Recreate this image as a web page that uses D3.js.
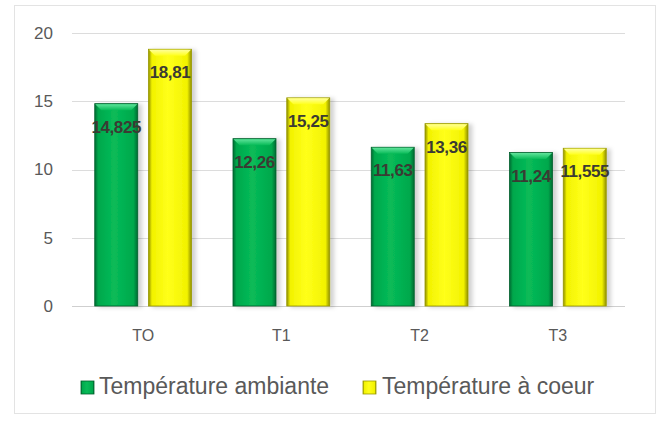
<!DOCTYPE html>
<html lang="fr">
<head>
<meta charset="utf-8">
<title>Températures</title>
<style>
  body { margin: 0; background: #fff; }
  svg text { font-family: "Liberation Sans", Arial, sans-serif; }
  .tick-y, .tick-x { fill: #595959; }
  .lbl { font-weight: bold; fill: #3b3b33; }
  .leg { fill: #595959; }
</style>
</head>
<body>
<svg id="chart" width="660" height="421"></svg>
<script src="https://cdn.jsdelivr.net/npm/d3@7"></script>
<script>
// données
var categories = ['TO', 'T1', 'T2', 'T3'];
var series = ['Température ambiante', 'Température à coeur'];
var ambiante = [14.825, 12.26, 11.63, 11.24];
var coeur = [18.81, 15.25, 13.36, 11.555];
var yTicks = [0, 5, 10, 15, 20];

var svg = d3.select('#chart');

// cadre du graphique
svg.append('rect')
  .attr('x', 14.5).attr('y', 5.5)
  .attr('width', 641).attr('height', 408)
  .attr('fill', '#fff')
  .attr('stroke', '#e3e3e3');

var y = d3.scaleLinear().domain([0, 20]).range([306, 33]);
var x0 = d3.scaleBand().domain(categories).range([74, 627]).paddingInner(0.3).paddingOuter(0.15);
var x1 = d3.scaleBand().domain(series).range([0, x0.bandwidth()]).paddingInner(0.2);

// dégradés (effet biseau)
var defs = svg.append('defs');
function grad(id, edge, mid, light) {
  var g = defs.append('linearGradient').attr('id', id).attr('x1', 0).attr('x2', 1).attr('y1', 0).attr('y2', 0);
  g.append('stop').attr('offset', '0%').attr('stop-color', edge);
  g.append('stop').attr('offset', '8%').attr('stop-color', mid);
  g.append('stop').attr('offset', '45%').attr('stop-color', light);
  g.append('stop').attr('offset', '90%').attr('stop-color', mid);
  g.append('stop').attr('offset', '100%').attr('stop-color', edge);
}
grad('gGreen', '#006b32', '#00a84c', '#08bb58');
grad('gYellow', '#8f8f00', '#f2f200', '#ffff1a');
function topGrad(id, a, b) {
  var g = defs.append('linearGradient').attr('id', id).attr('x1', 0).attr('x2', 0).attr('y1', 0).attr('y2', 1);
  g.append('stop').attr('offset', '0%').attr('stop-color', a);
  g.append('stop').attr('offset', '100%').attr('stop-color', b);
}
topGrad('tGreen', '#5fe39a', '#08bb58');
topGrad('tYellow', '#ffff9a', '#ffff1a');

var shadow = defs.append('filter').attr('id', 'shadow')
  .attr('x', '-20%').attr('y', '-10%').attr('width', '150%').attr('height', '120%');
shadow.append('feDropShadow').attr('dx', 4).attr('dy', 1).attr('stdDeviation', 2)
  .attr('flood-color', '#000').attr('flood-opacity', 0.18);

// grille
svg.append('g').selectAll('line')
  .data(yTicks)
  .enter().append('line')
  .attr('x1', 72).attr('x2', 625)
  .attr('y1', function(d) { return Math.round(y(d)) + 0.5; })
  .attr('y2', function(d) { return Math.round(y(d)) + 0.5; })
  .attr('stroke', function(d) { return d === 0 ? '#cfcfcf' : '#dcdcdc'; })
  .attr('stroke-width', 1);

// axe y
svg.append('g').selectAll('text')
  .data(yTicks)
  .enter().append('text')
  .attr('class', 'tick-y')
  .attr('x', 53)
  .attr('y', function(d) { return y(d); })
  .attr('dy', '0.35em')
  .attr('text-anchor', 'end')
  .style('font-size', '17px')
  .text(function(d) { return d; });

// axe x
svg.append('g').selectAll('text')
  .data(categories)
  .enter().append('text')
  .attr('class', 'tick-x')
  .attr('x', function(d) { return x0(d) + x0.bandwidth() / 2; })
  .attr('y', 341)
  .attr('text-anchor', 'middle')
  .style('font-size', '16px')
  .text(function(d) { return d; });

// barres
var rows = categories.map(function(c, i) {
  return { cat: c, vals: [
    { s: series[0], v: ambiante[i], fill: 'gGreen', top: 'tGreen', edge: '#00602c' },
    { s: series[1], v: coeur[i], fill: 'gYellow', top: 'tYellow', edge: '#9a9a00' }
  ]};
});

var groups = svg.append('g').selectAll('g')
  .data(rows)
  .enter().append('g')
  .attr('transform', function(d) { return 'translate(' + x0(d.cat) + ',0)'; });

var bars = groups.selectAll('g.bar')
  .data(function(d) { return d.vals; })
  .enter().append('g')
  .attr('class', 'bar');

bars.append('rect')
  .attr('x', function(d) { return x1(d.s); })
  .attr('y', function(d) { return y(d.v); })
  .attr('width', x1.bandwidth())
  .attr('height', function(d) { return y(0) - y(d.v); })
  .attr('fill', function(d) { return 'url(#' + d.fill + ')'; })
  .attr('stroke', function(d) { return d.edge; })
  .attr('stroke-width', 0.8)
  .attr('filter', 'url(#shadow)');

// biseau du haut
bars.append('path')
  .attr('d', function(d) {
    var l = x1(d.s) + 0.5, r = l + x1.bandwidth() - 1, t = y(d.v) + 0.5, b = 6;
    return 'M' + l + ',' + t + 'L' + r + ',' + t + 'L' + (r - b) + ',' + (t + b) + 'L' + (l + b) + ',' + (t + b) + 'Z';
  })
  .attr('fill', function(d) { return 'url(#' + d.top + ')'; });

// étiquettes
bars.append('text')
  .attr('class', 'lbl')
  .attr('x', function(d) { return x1(d.s) + x1.bandwidth() / 2; })
  .attr('y', function(d) { return y(d.v) + 29; })
  .attr('text-anchor', 'middle')
  .style('font-size', '17px')
  .style('letter-spacing', '-0.4px')
  .text(function(d) { return String(d.v).replace('.', ','); });

// légende
var legendPos = [{ sx: 81, tx: 99 }, { sx: 363, tx: 382 }];
var legend = svg.append('g').selectAll('g')
  .data(series)
  .enter().append('g');

legend.append('rect')
  .attr('x', function(d, i) { return legendPos[i].sx; })
  .attr('y', 381)
  .attr('width', 13).attr('height', 13)
  .attr('fill', function(d, i) { return i === 0 ? 'url(#gGreen)' : 'url(#gYellow)'; })
  .attr('stroke', function(d, i) { return i === 0 ? '#00602c' : '#9a9a00'; })
  .attr('stroke-width', 0.8);

legend.append('text')
  .attr('class', 'leg')
  .attr('x', function(d, i) { return legendPos[i].tx; })
  .attr('y', 394)
  .style('font-size', '23px')
  .text(function(d) { return d; });
</script>
</body>
</html>
